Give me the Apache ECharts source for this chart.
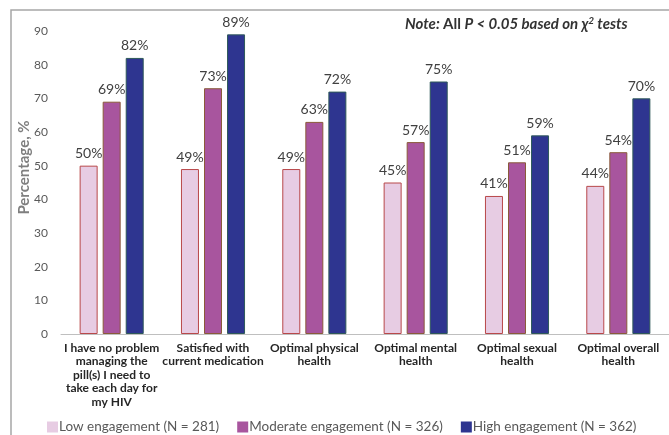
<!DOCTYPE html>
<html><head><meta charset="utf-8">
<script src="https://cdn.jsdelivr.net/npm/echarts@6/dist/echarts.min.js"></script>
<style>html,body{margin:0;padding:0;background:#fff}#c{width:669px;height:435px}</style>
</head><body><div id="c"></div>
<script>
const categories = [
  "I have no problem\nmanaging the\npill(s) I need to\ntake each day for\nmy HIV",
  "Satisfied with\ncurrent medication",
  "Optimal physical\nhealth",
  "Optimal mental\nhealth",
  "Optimal sexual\nhealth",
  "Optimal overall\nhealth"
];
const seriesNames = ["Low engagement (N = 281)", "Moderate engagement (N = 326)", "High engagement (N = 362)"];
const lowValues = [50, 49, 49, 45, 41, 44];
const moderateValues = [69, 73, 63, 57, 51, 54];
const highValues = [82, 89, 72, 75, 59, 70];
const yTicks = [0, 10, 20, 30, 40, 50, 60, 70, 80, 90];

const fills = ["#E7CCE3", "#A8559E", "#2E3590"];
const borders = ["#B8484A", "#8A5A3A", "#2F5A5A"];
const FONT = "Lato, 'DejaVu Sans', sans-serif";

const chart = echarts.init(document.getElementById('c'), null, {renderer: 'canvas'});
function mk(i, data) {
  return {
    name: seriesNames[i], type: 'bar', data: data,
    barWidth: 18, barGap: '28%',
    itemStyle: {color: fills[i], borderColor: borders[i], borderWidth: 1},
    label: {show: true, position: 'top', distance: 5, formatter: '{c}%',
            color: '#404040', fontSize: 14, fontFamily: FONT}
  };
}
const noteStyle = {fontSize: 15, fontWeight: 'bold', fontStyle: 'italic', fill: '#333', fontFamily: FONT};
chart.setOption({
  animation: false,
  textStyle: {fontFamily: FONT},
  graphic: [{
    type: 'polyline', shape: {points: [[11, 440], [11, 10], [680, 10]]},
    style: {stroke: '#a6a6a6', lineWidth: 1.5, fill: null}
  }, {
    type: 'text', left: 405, top: 16,
    style: {
      text: '{a|Note: }{n|All }{a|P < 0.05 based on }{a|χ}{s|2}{a| tests}',
      rich: {
        a: noteStyle,
        n: Object.assign({}, noteStyle, {fontStyle: 'normal'}),
        s: {fontSize: 10, fontWeight: 'bold', fontStyle: 'italic', fill: '#333', fontFamily: FONT, verticalAlign: 'top', padding: [0, 0, 7, 0]}
      }
    }
  }],
  legend: {
    top: 415, left: 42, itemWidth: 11, itemHeight: 11, itemGap: 18,
    icon: 'rect',
    itemStyle: {borderWidth: 0},
    textStyle: {fontSize: 13.5, color: '#595959', fontFamily: FONT, padding: [0, 0, 0, -4]},
    data: seriesNames
  },
  grid: {left: 61, right: -2, top: 31, bottom: 101},
  xAxis: {
    type: 'category', data: categories,
    axisLine: {lineStyle: {color: '#bfbfbf', width: 1}},
    axisTick: {show: false},
    axisLabel: {color: '#262626', fontSize: 12, fontWeight: 'bold', lineHeight: 13.5, margin: 7, interval: 0, fontFamily: FONT}
  },
  yAxis: {
    type: 'value', min: yTicks[0], max: yTicks[yTicks.length - 1], interval: 10,
    name: 'Percentage, %', nameLocation: 'middle', nameGap: 29, nameMoveOverlap: false,
    nameTextStyle: {fontSize: 15, fontWeight: 'bold', color: '#7f7f7f', fontFamily: FONT, padding: [0, 0, 0, 30]},
    axisLine: {show: false}, axisTick: {show: false},
    splitLine: {show: false},
    axisLabel: {color: '#595959', fontSize: 12, margin: 13, fontFamily: FONT}
  },
  series: [mk(0, lowValues), mk(1, moderateValues), mk(2, highValues)]
});
</script></body></html>
